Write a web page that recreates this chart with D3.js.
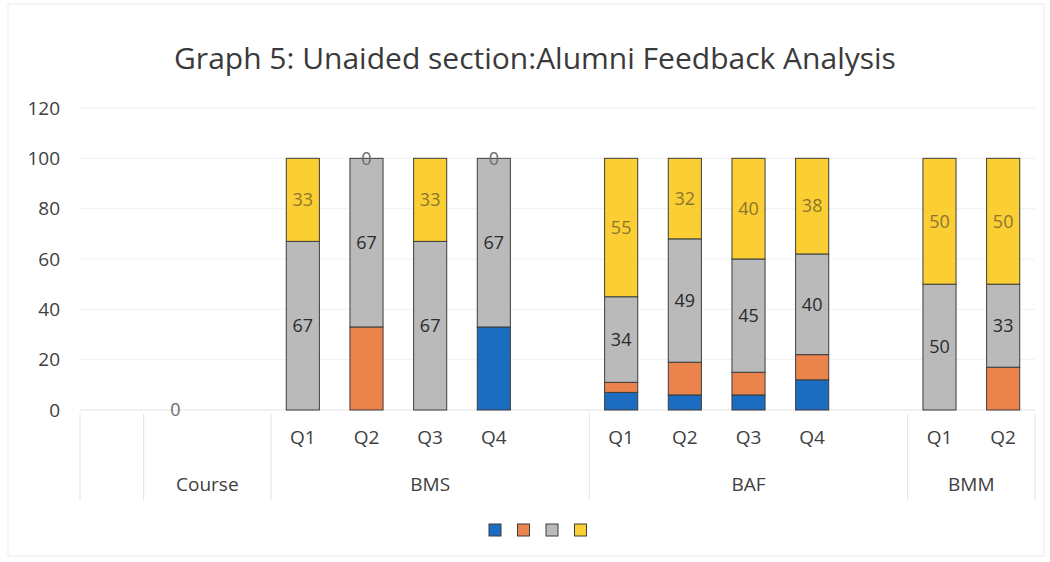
<!DOCTYPE html>
<html>
<head>
<meta charset="utf-8">
<script src="https://cdn.jsdelivr.net/npm/d3@7"></script>
<style>
  body { margin: 0; background: #fff; }
  svg { display: block; font-family: "Open Sans", sans-serif; }
</style>
</head>
<body>
<svg width="1050" height="562"></svg>
<script>
// one entry per slot on the category axis (blank slots are gaps in the sheet)
var quarters = ["", "", "", "Q1", "Q2", "Q3", "Q4", "", "Q1", "Q2", "Q3", "Q4", "", "Q1", "Q2"];
var groups = ["", "Course", "BMS", "BAF", "BMM"];
var groupSizes = [1, 2, 5, 5, 2];

// series values, null = empty cell
var blue   = [null, null, null, 0, 0, 0, 33, null, 7, 6, 6, 12, null, 0, 0];
var orange = [null, null, null, 0, 33, 0, 0, null, 4, 13, 9, 10, null, 0, 17];
var grey   = [null, 0, null, 67, 67, 67, 67, null, 34, 49, 45, 40, null, 50, 33];
var yellow = [null, null, null, 33, 0, 33, 0, null, 55, 32, 40, 38, null, 50, 50];

var yTicks = [0, 20, 40, 60, 80, 100, 120];

var series = [
  { values: blue,   color: "#1c6dc1", labels: false },
  { values: orange, color: "#ea844c", labels: false },
  { values: grey,   color: "#bababa", labels: true, labelColor: "#2b2b2b" },
  { values: yellow, color: "#fbcf33", labels: true, labelColor: "#8a7630" }
];

var svg = d3.select("svg");
var plotLeft = 80, plotRight = 1035, plotTop = 108, plotBottom = 410;

// faint chart border
svg.append("rect")
  .attr("x", 8).attr("y", 4).attr("width", 1036).attr("height", 552)
  .attr("fill", "none").attr("stroke", "#ececec");

svg.append("text")
  .attr("x", 535).attr("y", 69)
  .attr("text-anchor", "middle")
  .attr("font-size", "30px")
  .attr("fill", "#3a3a3a")
  .text("Graph 5: Unaided section:Alumni Feedback Analysis");

var x = d3.scaleBand()
  .domain(d3.range(quarters.length))
  .range([plotLeft, plotRight]);

var y = d3.scaleLinear()
  .domain([0, 120])
  .range([plotBottom, plotTop]);

// gridlines
svg.append("g")
  .selectAll("line")
  .data(yTicks.slice(1))
  .enter().append("line")
  .attr("x1", plotLeft).attr("x2", plotRight)
  .attr("y1", d => y(d)).attr("y2", d => y(d))
  .attr("stroke", "#f0f0f0");

// y axis labels
var yAxis = svg.append("g")
  .attr("transform", "translate(" + plotLeft + ",0)")
  .call(d3.axisLeft(y).tickValues(yTicks).tickSize(0).tickPadding(20));
yAxis.select(".domain").remove();
yAxis.selectAll("text")
  .attr("font-size", "19px")
  .attr("font-family", "Open Sans, sans-serif")
  .attr("fill", "#404040");

// base line
svg.append("line")
  .attr("x1", plotLeft).attr("x2", plotRight)
  .attr("y1", plotBottom).attr("y2", plotBottom)
  .attr("stroke", "#e4e4e4");

// stack the segments
var barW = x.bandwidth() * 0.52;
series.forEach(function(s, si) {
  s.segs = s.values.map(function(v, i) {
    if (v === null) return null;
    var base = 0;
    for (var k = 0; k < si; k++) {
      if (series[k].values[i] !== null) base += series[k].values[i];
    }
    return { i: i, y0: base, y1: base + v, v: v };
  }).filter(d => d !== null);
});

series.forEach(function(s) {
  svg.append("g")
    .selectAll("rect")
    .data(s.segs.filter(d => d.v > 0))
    .enter().append("rect")
    .attr("x", d => x(d.i) + (x.bandwidth() - barW) / 2)
    .attr("width", barW)
    .attr("y", d => y(d.y1))
    .attr("height", d => y(d.y0) - y(d.y1))
    .attr("fill", s.color)
    .attr("stroke", "#3d3d3d")
    .attr("stroke-width", 1);
});

series.forEach(function(s) {
  if (!s.labels) return;
  svg.append("g")
    .selectAll("text")
    .data(s.segs)
    .enter().append("text")
    .attr("x", d => x(d.i) + x.bandwidth() / 2)
    .attr("y", d => y((d.y0 + d.y1) / 2))
    .attr("dy", "0.35em")
    .attr("text-anchor", "middle")
    .attr("font-size", "18px")
    .attr("fill", d => d.v === 0 ? "#6b6b6b" : s.labelColor)
    .text(d => d.v);
});

// category axis: quarter labels
svg.append("g")
  .selectAll("text")
  .data(quarters)
  .enter().append("text")
  .attr("x", (d, i) => x(i) + x.bandwidth() / 2)
  .attr("y", 444)
  .attr("text-anchor", "middle")
  .attr("font-size", "19px")
  .attr("fill", "#404040")
  .text(d => d);

// group labels and dividers
var starts = [0];
groupSizes.forEach(function(n, i) { starts.push(starts[i] + n); });
var edges = starts.map(function(s) { return s < quarters.length ? x(s) : plotRight; });

svg.append("g")
  .selectAll("line")
  .data(edges)
  .enter().append("line")
  .attr("x1", d => d).attr("x2", d => d)
  .attr("y1", plotBottom + 4).attr("y2", 500)
  .attr("stroke", "#e2e2e2");

svg.append("g")
  .selectAll("text")
  .data(groups)
  .enter().append("text")
  .attr("x", (d, i) => (edges[i] + edges[i + 1]) / 2)
  .attr("y", 491)
  .attr("text-anchor", "middle")
  .attr("font-size", "19px")
  .attr("fill", "#404040")
  .text(d => d);

// legend (series have no names)
svg.append("g")
  .selectAll("rect")
  .data(series)
  .enter().append("rect")
  .attr("x", (d, i) => 489 + i * 28.5)
  .attr("y", 524)
  .attr("width", 12).attr("height", 12)
  .attr("fill", d => d.color)
  .attr("stroke", "#3d3d3d")
  .attr("stroke-width", 1);
</script>
</body>
</html>
